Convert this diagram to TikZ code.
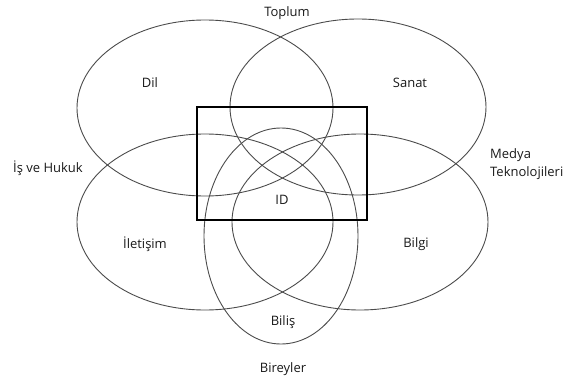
\documentclass[tikz,border=0pt]{standalone}
\usepackage{fontspec}
\setmainfont{Open Sans}
\usetikzlibrary{positioning}
\definecolor{ink}{RGB}{25,25,25}
\definecolor{ring}{RGB}{75,75,75}

\begin{document}
\begin{tikzpicture}[x=1pt,y=-1pt,
    field/.style={draw=ring,line width=0.9pt},
    frame/.style={draw=black,line width=2.6pt},
    tag/.style={font=\fontsize{13}{18}\selectfont,text=ink,inner sep=0pt}]
  \useasboundingbox (0,0) rectangle (568,383);
  % the five overlapping fields
  \draw[field] (205,108) ellipse [x radius=128,y radius=88];
  \draw[field] (358,107) ellipse [x radius=128,y radius=88];
  \draw[field] (205,222) ellipse [x radius=128,y radius=88];
  \draw[field] (360,222) ellipse [x radius=128,y radius=88];
  \draw[field] (281,236) ellipse [x radius=77,y radius=108];
  % the ID frame
  \draw[frame] (197,107) rectangle (367,220);
  % labels inside
  \node[tag] (dil) at (150,83) {Dil};
  \node[tag] (sanat) at (410,83) {Sanat};
  \node[tag] (iletisim) at (145,244) {İletişim};
  \node[tag] (bilgi) at (416,244) {Bilgi};
  \node[tag] (bilis) at (283,322) {Biliş};
  \node[tag] (id) at (282,200) {ID};
  % labels outside
  \node[tag] (toplum) at (287,13) {Toplum};
  \node[tag] (hukuk) at (48,168) {İş ve Hukuk};
  \node[tag,align=left,anchor=west] (medya) at (490,164) {Medya\\Teknolojileri};
  \node[tag] (bireyler) at (283,369) {Bireyler};
\end{tikzpicture}
\end{document}
